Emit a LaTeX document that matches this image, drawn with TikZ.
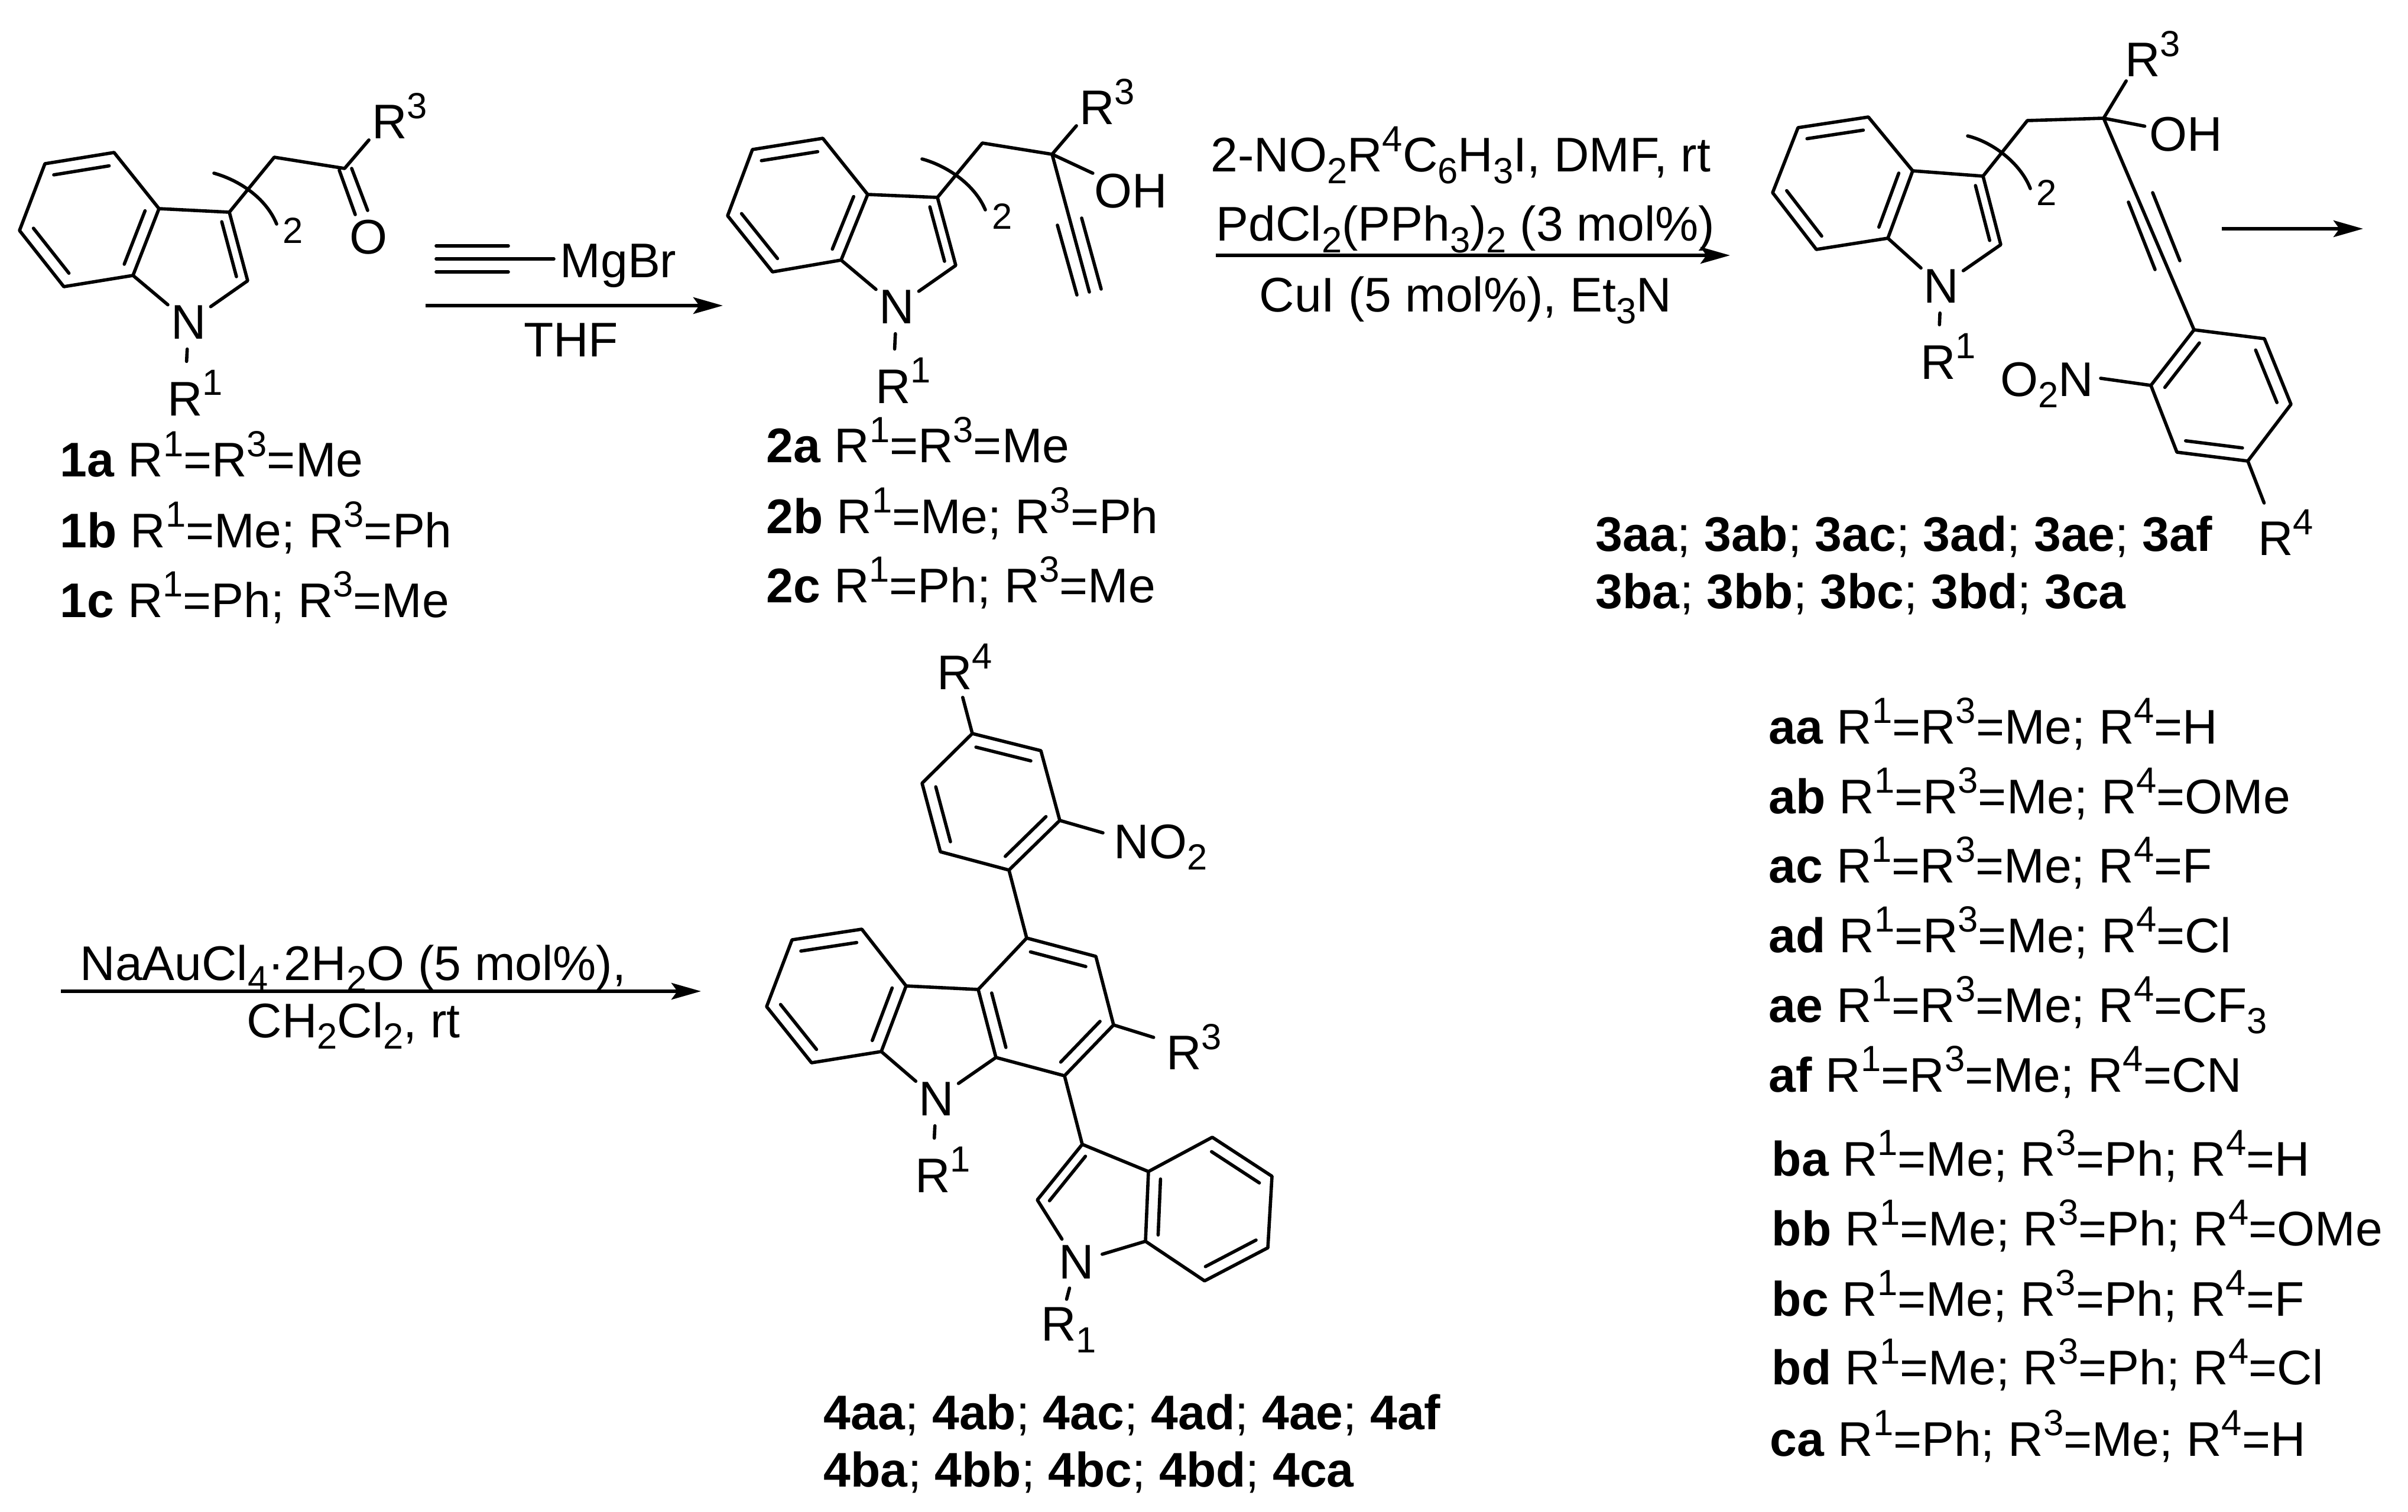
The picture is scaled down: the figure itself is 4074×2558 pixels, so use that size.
\documentclass[tikz,border=0pt]{standalone}
\usepackage{fontspec}
\setmainfont{Liberation Sans}
\usetikzlibrary{arrows.meta,calc}
\newcommand{\supn}[1]{\raisebox{.42em}{\fontsize{17.5}{18}\selectfont #1}}
\newcommand{\subn}[1]{\raisebox{-.24em}{\fontsize{17.5}{18}\selectfont #1}}
\newcommand{\dblin}[3]{\draw[bond] ($(#1)!.2!(#3)$) -- ($(#2)!.2!(#3)$);}
\tikzset{
  every node/.style={font=\fontsize{23.4}{24}\selectfont, inner sep=0pt},
  bond/.style={line width=.056cm, line cap=round, line join=round},
  fleche/.style={line width=.056cm, -{Stealth[length=.5cm,width=.28cm,inset=.1cm]}},
  atom/.style={circle, minimum size=.9cm},
  rgroup/.style={circle, minimum size=1.06cm},
  hydroxy/.style={circle, minimum size=1.4cm},
  lbl/.style={anchor=base west}
}
\begin{document}
\begin{tikzpicture}[x=.01cm, y=-.01cm]
\useasboundingbox (0,0) rectangle (4074,2558);
% compound 1
\coordinate (A1) at (76,277);
\coordinate (B1) at (193,258);
\coordinate (C1) at (269,353);
\coordinate (D1) at (225,466);
\coordinate (E1) at (108,485);
\coordinate (F1) at (33,390);
\coordinate (G1) at (388,359);
\coordinate (H1) at (419,475);
\coordinate (I1) at (464,266);
\coordinate (J1) at (583,285);
\coordinate (Z1) at (151,371);
\coordinate (Y1) at (324,440);
\node[atom] (N1) at (319,545) {N};
\node[rgroup] (RA1) at (313,665) {R\rlap{\supn{1}}};
\node[rgroup] (RC1) at (659,196) {R\rlap{\supn{3}}};
\node (O1) at (623,401) {O};
\node (P1) at (496,390) {\fontsize{17.5}{18}\selectfont 2};
\draw[bond] (A1) -- (B1) -- (C1) -- (D1) -- (E1) -- (F1) -- cycle;
\draw[bond] (C1) -- (G1) -- (H1) -- (N1) -- (D1);
\draw[bond] (G1) -- (I1) -- (J1) -- (RC1);
\draw[bond] (N1) -- (RA1);
\draw[bond] (574,288) -- (601,363);
\draw[bond] (595,285) -- (622,356);
\dblin{A1}{B1}{Z1}
\dblin{C1}{D1}{Z1}
\dblin{E1}{F1}{Z1}
\dblin{G1}{H1}{Y1}
\coordinate (S1) at (362,293);
\coordinate (T1) at (468,379);
\draw[bond] (S1) .. controls (405,305) and (450,335) .. (T1);
\node[lbl] (L1a) at (101,807) {\textbf{1a} R\supn{1}=R\supn{3}=Me};
\node[lbl] (L1b) at (101,926) {\textbf{1b} R\supn{1}=Me; R\supn{3}=Ph};
\node[lbl] (L1c) at (101,1044) {\textbf{1c} R\supn{1}=Ph; R\supn{3}=Me};
% grignard and arrow
\coordinate (Ma) at (738,416);
\coordinate (Mb) at (860,416);
\coordinate (Mc) at (738,438);
\coordinate (Md) at (937,438);
\coordinate (Me) at (738,460);
\coordinate (Mf) at (860,460);
\draw[bond] (Ma) -- (Mb);
\draw[bond] (Mc) -- (Md);
\draw[bond] (Me) -- (Mf);
\node[lbl] (MgBr) at (947,470) {MgBr};
\coordinate (Fa) at (720,517);
\coordinate (Fb) at (1223,517);
\draw[fleche] (Fa) -- (Fb);
\node (THF) at (966,575) {THF};
% compound 2
\coordinate (A2) at (1273,253);
\coordinate (B2) at (1392,234);
\coordinate (C2) at (1468,329);
\coordinate (D2) at (1423,440);
\coordinate (E2) at (1307,460);
\coordinate (F2) at (1231,365);
\coordinate (G2) at (1586,334);
\coordinate (H2) at (1617,449);
\coordinate (I2) at (1662,242);
\coordinate (J2) at (1780,261);
\coordinate (K2) at (1843,494);
\coordinate (Z2) at (1349,347);
\coordinate (Y2) at (1522,414);
\node[atom] (N2) at (1517,519) {N};
\node[rgroup] (RA2) at (1511,644) {R\rlap{\supn{1}}};
\node[rgroup] (RC2) at (1856,172) {R\rlap{\supn{3}}};
\node[hydroxy] (OH2) at (1913,323) {OH};
\node (P2) at (1696,366) {\fontsize{17.5}{18}\selectfont 2};
\draw[bond] (A2) -- (B2) -- (C2) -- (D2) -- (E2) -- (F2) -- cycle;
\draw[bond] (C2) -- (G2) -- (H2) -- (N2) -- (D2);
\draw[bond] (G2) -- (I2) -- (J2) -- (RC2);
\draw[bond] (N2) -- (RA2);
\draw[bond] (J2) -- (OH2);
\draw[bond] (J2) -- (K2);
\draw[bond] (1789,381) -- (1822,499);
\draw[bond] (1830,369) -- (1863,489);
\dblin{A2}{B2}{Z2}
\dblin{C2}{D2}{Z2}
\dblin{E2}{F2}{Z2}
\dblin{G2}{H2}{Y2}
\coordinate (S2) at (1560,269);
\coordinate (T2) at (1667,355);
\draw[bond] (S2) .. controls (1600,280) and (1648,310) .. (T2);
\node[lbl] (L2a) at (1296,783) {\textbf{2a} R\supn{1}=R\supn{3}=Me};
\node[lbl] (L2b) at (1296,902) {\textbf{2b} R\supn{1}=Me; R\supn{3}=Ph};
\node[lbl] (L2c) at (1296,1019) {\textbf{2c} R\supn{1}=Ph; R\supn{3}=Me};
% second arrow
\node[lbl] (Ra) at (2048,291) {2-NO\subn{2}R\supn{4}C\subn{6}H\subn{3}I, DMF, rt};
\node[lbl] (Rb) at (2057,408) {PdCl\subn{2}(PPh\subn{3})\subn{2} (3 mol\%)};
\node[lbl] (Rc) at (2130,528) {CuI (5 mol\%), Et\subn{3}N};
\coordinate (Ga) at (2057,432);
\coordinate (Gb) at (2927,432);
\draw[fleche] (Ga) -- (Gb);
% compound 3
\coordinate (A3) at (3042,216);
\coordinate (B3) at (3161,198);
\coordinate (C3) at (3236,289);
\coordinate (D3) at (3194,403);
\coordinate (E3) at (3073,422);
\coordinate (F3) at (2999,326);
\coordinate (G3) at (3355,298);
\coordinate (H3) at (3385,414);
\coordinate (I3) at (3430,204);
\coordinate (J3) at (3559,200);
\coordinate (K3) at (3712,558);
\coordinate (L3) at (3831,573);
\coordinate (M3) at (3876,684);
\coordinate (O3) at (3803,780);
\coordinate (P3) at (3683,765);
\coordinate (Q3) at (3639,652);
\coordinate (Z3) at (3118,309);
\coordinate (Y3) at (3291,378);
\coordinate (X3) at (3757,669);
\coordinate (NO3) at (3554,640);
\node[atom] (N3) at (3284,484) {N};
\node[rgroup] (RA3) at (3279,603) {R\rlap{\supn{1}}};
\node[rgroup] (RC3) at (3625,91) {R\rlap{\supn{3}}};
\node[rgroup] (RD3) at (3850,901) {R\rlap{\supn{4}}};
\node[hydroxy] (OH3) at (3698,227) {OH};
\node[anchor=base east] (ON3) at (3543,670) {O\subn{2}N};
\node (P3b) at (3463,326) {\fontsize{17.5}{18}\selectfont 2};
\draw[bond] (A3) -- (B3) -- (C3) -- (D3) -- (E3) -- (F3) -- cycle;
\draw[bond] (C3) -- (G3) -- (H3) -- (N3) -- (D3);
\draw[bond] (G3) -- (I3) -- (J3) -- (RC3);
\draw[bond] (N3) -- (RA3);
\draw[bond] (J3) -- (OH3);
\draw[bond] (J3) -- (K3);
\draw[bond] (3601,342) -- (3646,456);
\draw[bond] (3642,326) -- (3688,441);
\draw[bond] (K3) -- (L3) -- (M3) -- (O3) -- (P3) -- (Q3) -- cycle;
\draw[bond] (Q3) -- (NO3);
\draw[bond] (O3) -- (RD3);
\dblin{A3}{B3}{Z3}
\dblin{C3}{D3}{Z3}
\dblin{E3}{F3}{Z3}
\dblin{G3}{H3}{Y3}
\dblin{K3}{Q3}{X3}
\dblin{L3}{M3}{X3}
\dblin{O3}{P3}{X3}
\coordinate (S3) at (3329,230);
\coordinate (T3) at (3435,319);
\draw[bond] (S3) .. controls (3370,240) and (3418,275) .. (T3);
\node[lbl] (L3a) at (2699,932) {\textbf{3aa}; \textbf{3ab}; \textbf{3ac}; \textbf{3ad}; \textbf{3ae}; \textbf{3af}};
\node[lbl] (L3b) at (2699,1029) {\textbf{3ba}; \textbf{3bb}; \textbf{3bc}; \textbf{3bd}; \textbf{3ca}};
% third arrow
\coordinate (Ha) at (3759,387);
\coordinate (Hb) at (3998,387);
\draw[fleche] (Ha) -- (Hb);
\node[lbl] (Na) at (135,1658) {NaAuCl\subn{4}·2H\subn{2}O (5 mol\%),};
\node[lbl] (Nb) at (417,1755) {CH\subn{2}Cl\subn{2}, rt};
\coordinate (Ka) at (103,1677);
\coordinate (Kb) at (1186,1677);
\draw[fleche] (Ka) -- (Kb);
% compound 4
\coordinate (A4) at (1645,1241);
\coordinate (B4) at (1761,1270);
\coordinate (C4) at (1793,1388);
\coordinate (D4) at (1707,1472);
\coordinate (E4) at (1591,1441);
\coordinate (F4) at (1560,1325);
\coordinate (G4) at (1737,1587);
\coordinate (H4) at (1854,1618);
\coordinate (I4) at (1884,1734);
\coordinate (J4) at (1801,1820);
\coordinate (K4) at (1685,1789);
\coordinate (L4) at (1655,1674);
\coordinate (M4) at (1340,1590);
\coordinate (O4) at (1458,1572);
\coordinate (P4) at (1533,1668);
\coordinate (Q4) at (1491,1779);
\coordinate (S4) at (1373,1798);
\coordinate (T4) at (1297,1703);
\coordinate (U4) at (1831,1936);
\coordinate (V4) at (1755,2030);
\coordinate (W4) at (1938,2100);
\coordinate (AA4) at (1943,1982);
\coordinate (AB4) at (2051,1924);
\coordinate (AC4) at (2152,1990);
\coordinate (AD4) at (2145,2111);
\coordinate (AE4) at (2038,2167);
\coordinate (Z4) at (1676,1356);
\coordinate (Y4) at (1769,1704);
\coordinate (X4) at (1415,1685);
\coordinate (W4c) at (2045,2046);
\coordinate (V4c) at (1858,2037);
\coordinate (NO4) at (1866,1409);
\node[rgroup] (RD4) at (1615,1128) {R\rlap{\supn{4}}};
\node[lbl] (ON4) at (1884,1452) {NO\subn{2}};
\node[rgroup] (RC4) at (2003,1771) {R\rlap{\supn{3}}};
\node[atom] (N4) at (1584,1859) {N};
\node[rgroup] (RA4) at (1578,1979) {R\rlap{\supn{1}}};
\node[atom] (N4b) at (1821,2135) {N};
\node[rgroup] (RB4) at (1791,2250) {R\rlap{\subn{1}}};
\draw[bond] (A4) -- (B4) -- (C4) -- (D4) -- (E4) -- (F4) -- cycle;
\draw[bond] (A4) -- (RD4);
\draw[bond] (C4) -- (NO4);
\draw[bond] (D4) -- (G4);
\draw[bond] (G4) -- (H4) -- (I4) -- (J4) -- (K4) -- (L4) -- cycle;
\draw[bond] (I4) -- (RC4);
\draw[bond] (M4) -- (O4) -- (P4) -- (Q4) -- (S4) -- (T4) -- cycle;
\draw[bond] (P4) -- (L4);
\draw[bond] (Q4) -- (N4) -- (K4);
\draw[bond] (N4) -- (RA4);
\draw[bond] (J4) -- (U4);
\draw[bond] (U4) -- (V4) -- (N4b) -- (W4);
\draw[bond] (U4) -- (AA4);
\draw[bond] (AA4) -- (AB4) -- (AC4) -- (AD4) -- (AE4) -- (W4) -- cycle;
\draw[bond] (N4b) -- (RB4);
\dblin{A4}{B4}{Z4}
\dblin{C4}{D4}{Z4}
\dblin{E4}{F4}{Z4}
\dblin{G4}{H4}{Y4}
\dblin{I4}{J4}{Y4}
\dblin{K4}{L4}{Y4}
\dblin{M4}{O4}{X4}
\dblin{P4}{Q4}{X4}
\dblin{S4}{T4}{X4}
\dblin{AA4}{W4}{W4c}
\dblin{AB4}{AC4}{W4c}
\dblin{AD4}{AE4}{W4c}
\dblin{U4}{V4}{V4c}
\node[lbl] (L4a) at (1393,2418) {\textbf{4aa}; \textbf{4ab}; \textbf{4ac}; \textbf{4ad}; \textbf{4ae}; \textbf{4af}};
\node[lbl] (L4b) at (1393,2515) {\textbf{4ba}; \textbf{4bb}; \textbf{4bc}; \textbf{4bd}; \textbf{4ca}};
% legend
\node[lbl] (Laa) at (2992,1258) {\textbf{aa} R\supn{1}=R\supn{3}=Me; R\supn{4}=H};
\node[lbl] (Lab) at (2992,1376) {\textbf{ab} R\supn{1}=R\supn{3}=Me; R\supn{4}=OMe};
\node[lbl] (Lac) at (2992,1493) {\textbf{ac} R\supn{1}=R\supn{3}=Me; R\supn{4}=F};
\node[lbl] (Lad) at (2992,1611) {\textbf{ad} R\supn{1}=R\supn{3}=Me; R\supn{4}=Cl};
\node[lbl] (Lae) at (2992,1729) {\textbf{ae} R\supn{1}=R\supn{3}=Me; R\supn{4}=CF\subn{3}};
\node[lbl] (Laf) at (2992,1847) {\textbf{af} R\supn{1}=R\supn{3}=Me; R\supn{4}=CN};
\node[lbl] (Lba) at (2997,1989) {\textbf{ba} R\supn{1}=Me; R\supn{3}=Ph; R\supn{4}=H};
\node[lbl] (Lbb) at (2997,2107) {\textbf{bb} R\supn{1}=Me; R\supn{3}=Ph; R\supn{4}=OMe};
\node[lbl] (Lbc) at (2997,2226) {\textbf{bc} R\supn{1}=Me; R\supn{3}=Ph; R\supn{4}=F};
\node[lbl] (Lbd) at (2997,2342) {\textbf{bd} R\supn{1}=Me; R\supn{3}=Ph; R\supn{4}=Cl};
\node[lbl] (Lca) at (2994,2463) {\textbf{ca} R\supn{1}=Ph; R\supn{3}=Me; R\supn{4}=H};
\end{tikzpicture}
\end{document}
